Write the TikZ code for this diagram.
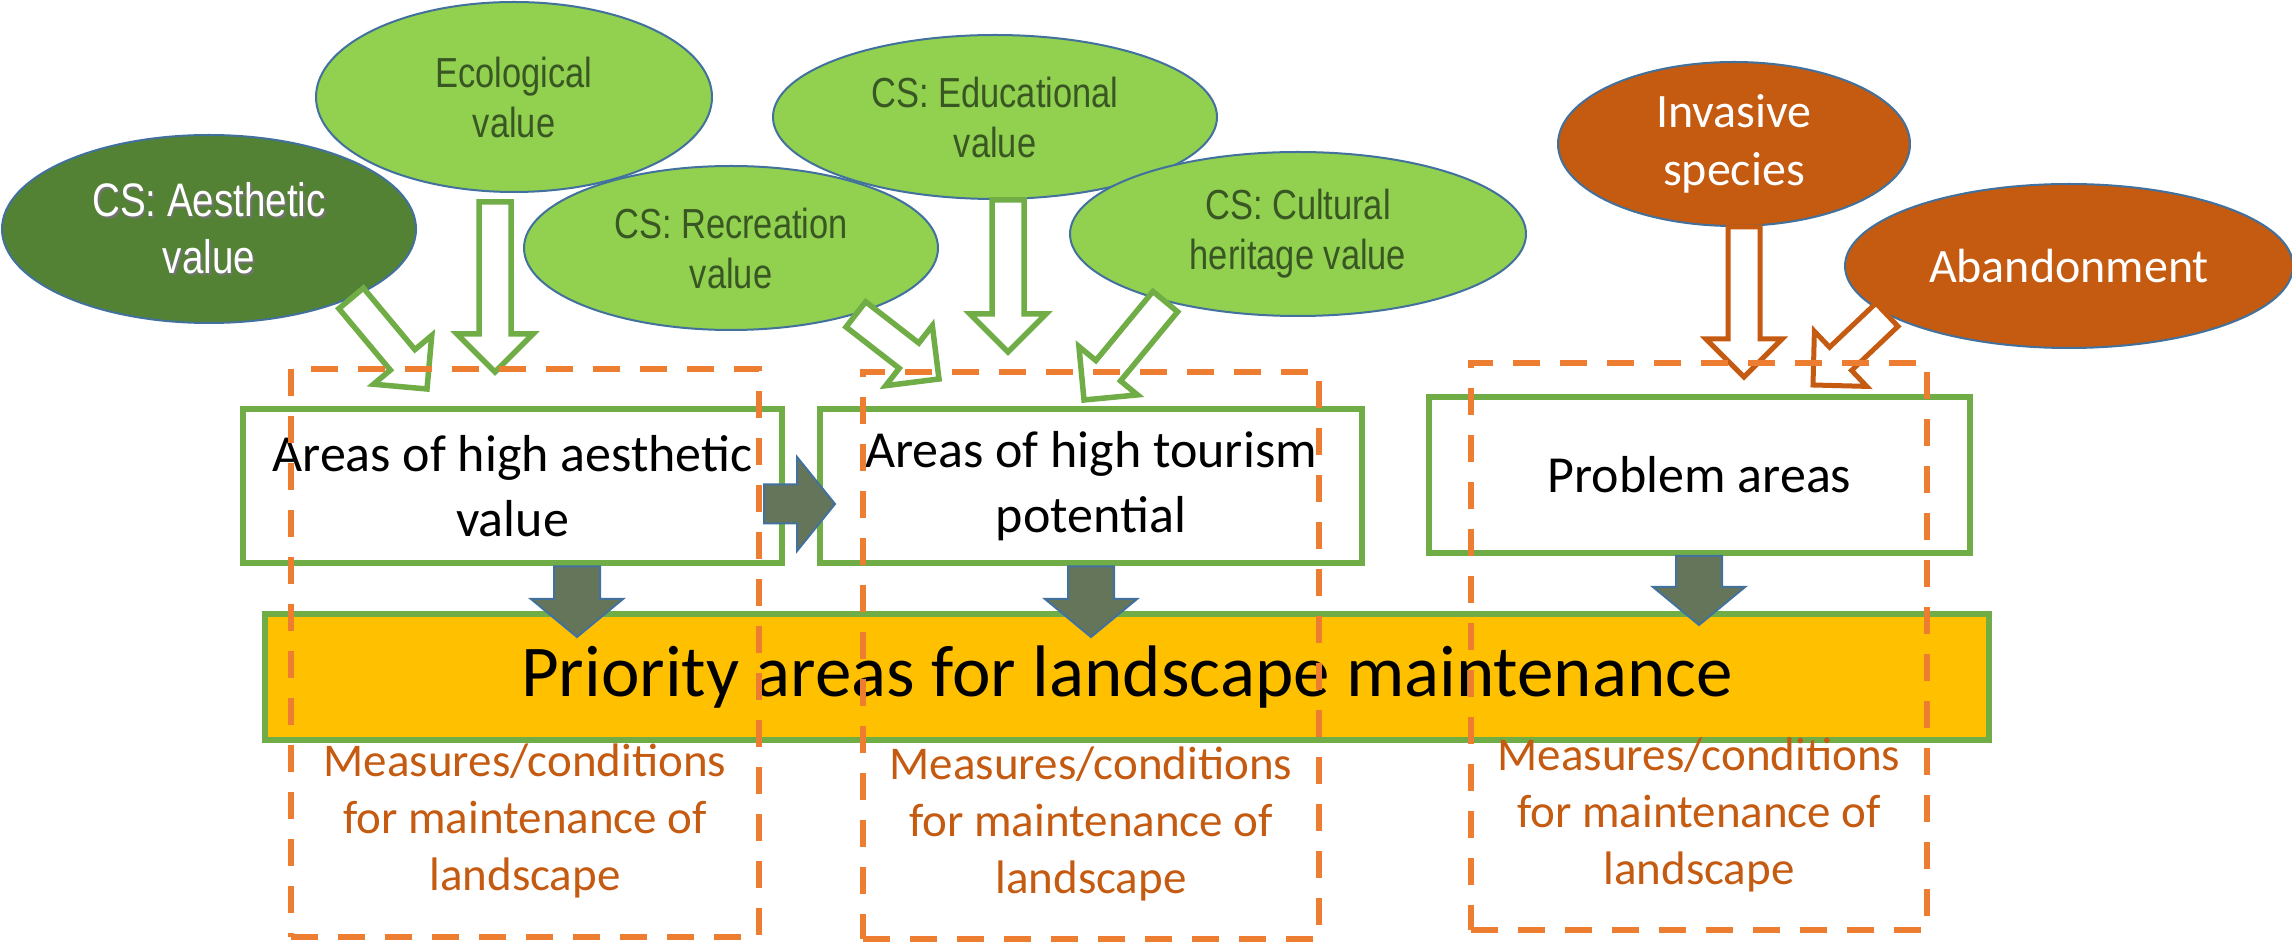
\documentclass[tikz,border=0pt]{standalone}
\usepackage{fontspec}
\setmainfont{Carlito}
\newfontfamily\narrowfont[FakeStretch=0.82]{Liberation Sans}
\usetikzlibrary{shapes.geometric,calc,positioning}

\definecolor{leafgreen}{HTML}{92D050}
\definecolor{mossgreen}{HTML}{548235}
\definecolor{valuetext}{HTML}{385723}
\definecolor{rust}{HTML}{C55A11}
\definecolor{rimblue}{HTML}{41719C}
\definecolor{boxgreen}{HTML}{70AD47}
\definecolor{amber}{HTML}{FFC000}
\definecolor{zoneorange}{HTML}{ED7D31}
\definecolor{slate}{RGB}{101,117,90}

\tikzset{
    value/.style={ellipse, draw=rimblue, line width=1pt, fill=leafgreen, text=valuetext, align=center, inner sep=0pt,
        font=\narrowfont\fontsize{21}{25}\selectfont},
    threat/.style={ellipse, draw=rimblue, line width=1pt, fill=rust, text=white, align=center, inner sep=0pt,
        font=\fontsize{24}{29}\selectfont},
    area/.style={draw=boxgreen, line width=3pt, fill=white, align=center, inner sep=0pt,
        minimum width=270pt, minimum height=77pt, font=\fontsize{26}{32.5}\selectfont},
    zone/.style={draw=zoneorange, line width=3.2pt, dash pattern=on 13.5pt off 10pt, inner sep=0pt},
    measure/.style={text=rust, align=center, inner sep=0pt, font=\fontsize{23.5}{28.5}\selectfont},
    hollow/.style={draw=boxgreen, line width=2.75pt, fill=white},
    rusthollow/.style={draw=rust, line width=2.5pt, fill=white},
    push/.style={draw=rimblue, line width=1pt, fill=slate}
}

% text with a small drop shadow
\newcommand{\shadowed}[1]{\leavevmode\rlap{\kern0.9pt\raisebox{-0.9pt}{\textcolor{black!55}{#1}}}#1}

% #1 style, #2 from, #3 tip, #4 half shaft, #5 half head, #6 head length
\newcommand{\blockarrow}[6]{%
    \path ($(#3)!#6!(#2)$) coordinate (bp);
    \draw [#1] ($(#2)!#4!90:(#3)$) -- ($(bp)!#4!90:(#3)$) -- ($(bp)!#5!90:(#3)$) -- (#3)
        -- ($(bp)!#5!-90:(#3)$) -- ($(bp)!#4!-90:(#3)$) -- ($(#2)!#4!-90:(#3)$) -- cycle;
}

\begin{document}
\begin{tikzpicture}[x=0.5pt, y=-0.5pt]
    \useasboundingbox (0, 0) rectangle (2292, 945);

    \node [value, minimum width=198pt, minimum height=95pt] (eco) at (514, 97) {Ecological\\value};
    \node [value, fill=mossgreen, text=white, font=\narrowfont\fontsize{23.5}{28.5}\selectfont,
        minimum width=207pt, minimum height=94pt] (aes) at (209, 229) {\shadowed{CS: Aesthetic}\\\shadowed{value}};
    \node [value, minimum width=207pt, minimum height=82pt] (rec) at (731, 248) {CS: Recreation\\value};
    \node [value, minimum width=222pt, minimum height=82pt] (edu) at (995, 117) {CS: Educational\\value};
    \node [value, minimum width=228pt, minimum height=82pt] (cul) at (1298, 234) {CS: Cultural\\heritage value};
    \node [threat, minimum width=176pt, minimum height=82pt] (inv) at (1734, 144) {Invasive\\species};
    \node [threat, minimum width=224pt, minimum height=82pt] (aba) at (2069, 266) {Abandonment};

    \coordinate (aestip) at (427, 389);
    \coordinate (ecotip) at (495, 372);
    \coordinate (rectip) at (939, 379);
    \coordinate (edutip) at (1008, 352);
    \coordinate (cultip) at (1084, 400);
    \coordinate (invtip) at (1744, 377);
    \coordinate (abatip) at (1813, 385);
    \coordinate (ecostart) at ($(ecotip |- eco.south)+(0, 9)$);

    \blockarrow{hollow}{aes.-26}{aestip}{8pt}{19pt}{19pt}
    \blockarrow{hollow}{ecostart}{ecotip}{8pt}{19pt}{19pt}
    \blockarrow{hollow}{rec.-28}{rectip}{8pt}{19pt}{19pt}
    \blockarrow{hollow}{edutip |- edu.south}{edutip}{8pt}{19pt}{19pt}
    \blockarrow{hollow}{cul.-153}{cultip}{8pt}{19pt}{19pt}
    \blockarrow{rusthollow}{invtip |- inv.south}{invtip}{8pt}{19pt}{19pt}
    \blockarrow{rusthollow}{aba.-165}{abatip}{8pt}{19pt}{19pt}

    \node [area, minimum width=269.5pt] (box1) at (512.5, 486.5) {Areas of high aesthetic\\value};
    \node [area, minimum width=271pt] (box2) at (1091, 486.5) {Areas of high tourism\\potential};
    \node [area, minimum width=270.5pt, minimum height=78pt] (box3) at (1699.5, 475) {Problem areas};

    \node [draw=boxgreen, line width=3pt, fill=amber, minimum width=862pt, minimum height=63pt,
        font=\fontsize{36.5}{44}\selectfont] (prio) at (1127, 677) {Priority areas for landscape maintenance};

    \coordinate (ratip) at (835, 504);
    \coordinate (rastart) at ($(ratip -| box1.east)+(-21, 0)$);
    \coordinate (tip1) at (577, 637);
    \coordinate (tip2) at (1091, 637);
    \coordinate (tip3) at (1699, 625);
    \blockarrow{push}{rastart}{ratip}{9.75pt}{23.5pt}{19pt}
    \blockarrow{push}{tip1 |- box1.south}{tip1}{11.5pt}{23pt}{19pt}
    \blockarrow{push}{tip2 |- box2.south}{tip2}{11.5pt}{23pt}{19pt}
    \blockarrow{push}{tip3 |- box3.south}{tip3}{11.5pt}{23pt}{19pt}

    \node [zone, minimum width=234pt, minimum height=284pt] (zone1) at (525, 653) {};
    \node [zone, minimum width=228pt, minimum height=283.5pt] (zone2) at (1091, 655.5) {};
    \node [zone, minimum width=228pt, minimum height=283.5pt] (zone3) at (1699, 646.5) {};

    \node [measure, below=189pt of zone1.north] {Measures/conditions\\for maintenance of\\landscape};
    \node [measure, below=189pt of zone2.north] {Measures/conditions\\for maintenance of\\landscape};
    \node [measure, below=189pt of zone3.north] {Measures/conditions\\for maintenance of\\landscape};
\end{tikzpicture}
\end{document}
